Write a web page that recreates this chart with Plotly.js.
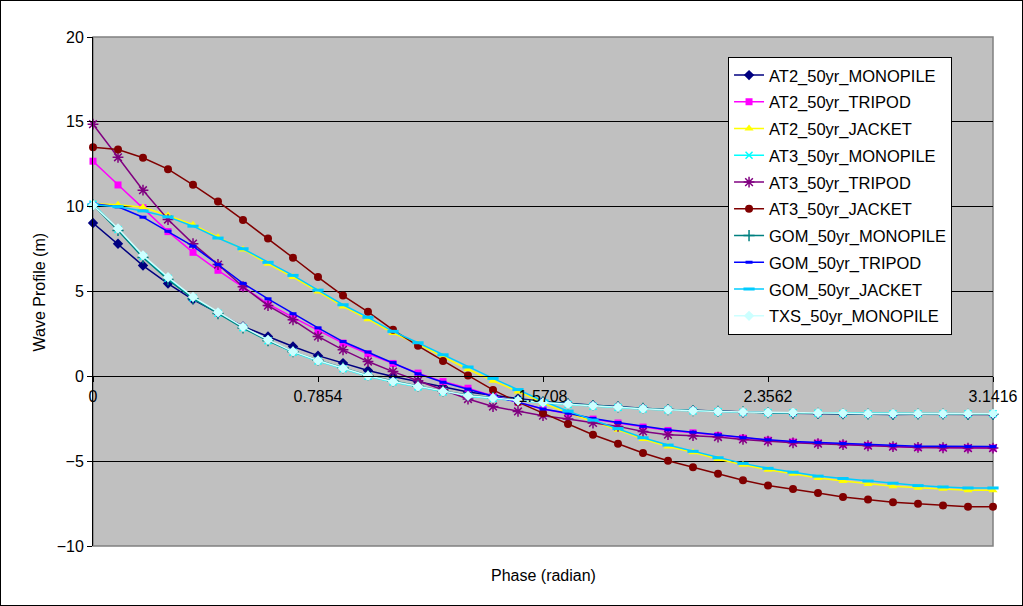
<!DOCTYPE html>
<html>
<head>
<meta charset="utf-8">
<script src="https://cdn.plot.ly/plotly-3.0.1.min.js"></script>
<style>
html,body{margin:0;padding:0;background:#fff;}
#chart{width:1021px;height:604px;border:1px solid #000;}
</style>
</head>
<body>
<div id="chart"></div>
<script>
const phase = [0, 0.0873, 0.1745, 0.2618, 0.3491, 0.4363, 0.5236, 0.6109, 0.6981, 0.7854, 0.8727, 0.9599, 1.0472, 1.1345, 1.2217, 1.3090, 1.3963, 1.4835, 1.5708, 1.6581, 1.7453, 1.8326, 1.9199, 2.0071, 2.0944, 2.1817, 2.2689, 2.3562, 2.4435, 2.5307, 2.6180, 2.7053, 2.7925, 2.8798, 2.9671, 3.0543, 3.1416];

const seriesNames = ["AT2_50yr_MONOPILE", "AT2_50yr_TRIPOD", "AT2_50yr_JACKET", "AT3_50yr_MONOPILE", "AT3_50yr_TRIPOD", "AT3_50yr_JACKET", "GOM_50yr_MONOPILE", "GOM_50yr_TRIPOD", "GOM_50yr_JACKET", "TXS_50yr_MONOPILE"];

const AT2_MONOPILE = [9.04, 7.81, 6.53, 5.47, 4.52, 3.74, 2.94, 2.35, 1.76, 1.22, 0.78, 0.34, -0.01, -0.32, -0.62, -0.92, -1.12, -1.30, -1.48, -1.60, -1.70, -1.78, -1.88, -1.95, -2.00, -2.07, -2.13, -2.14, -2.18, -2.20, -2.22, -2.22, -2.25, -2.23, -2.23, -2.25, -2.25];
const AT2_TRIPOD = [12.68, 11.28, 9.93, 8.53, 7.31, 6.25, 5.26, 4.27, 3.47, 2.70, 1.96, 1.33, 0.76, 0.19, -0.31, -0.70, -1.15, -1.54, -1.93, -2.21, -2.52, -2.75, -2.99, -3.19, -3.33, -3.48, -3.64, -3.76, -3.87, -3.93, -4.00, -4.08, -4.14, -4.19, -4.20, -4.22, -4.22];
const AT2_JACKET = [10.17, 10.12, 9.96, 9.48, 8.94, 8.20, 7.48, 6.63, 5.85, 5.00, 4.12, 3.37, 2.55, 1.90, 1.16, 0.42, -0.26, -0.89, -1.58, -2.16, -2.66, -3.15, -3.69, -4.13, -4.48, -4.87, -5.21, -5.50, -5.74, -5.99, -6.17, -6.34, -6.48, -6.57, -6.63, -6.71, -6.71];
const AT3_MONOPILE = [10.15, 8.65, 7.05, 5.78, 4.62, 3.72, 2.86, 2.10, 1.42, 0.90, 0.45, 0.00, -0.33, -0.62, -0.92, -1.17, -1.30, -1.44, -1.56, -1.66, -1.76, -1.83, -1.92, -1.98, -2.04, -2.08, -2.12, -2.14, -2.15, -2.17, -2.19, -2.20, -2.21, -2.21, -2.21, -2.21, -2.21];
const AT3_TRIPOD = [14.86, 12.91, 10.97, 9.24, 7.82, 6.59, 5.28, 4.17, 3.33, 2.35, 1.56, 0.87, 0.28, -0.26, -0.79, -1.34, -1.78, -2.07, -2.32, -2.52, -2.75, -2.95, -3.25, -3.44, -3.50, -3.58, -3.72, -3.82, -3.92, -3.97, -4.03, -4.09, -4.14, -4.19, -4.21, -4.23, -4.23];
const AT3_JACKET = [13.50, 13.37, 12.88, 12.21, 11.29, 10.30, 9.22, 8.13, 6.99, 5.85, 4.76, 3.80, 2.74, 1.80, 0.91, 0.05, -0.80, -1.52, -2.17, -2.81, -3.44, -3.97, -4.52, -4.97, -5.36, -5.74, -6.13, -6.44, -6.64, -6.88, -7.11, -7.26, -7.42, -7.51, -7.61, -7.68, -7.68];
const GOM_MONOPILE = [10.10, 8.60, 7.00, 5.70, 4.58, 3.70, 2.85, 2.10, 1.45, 0.95, 0.50, 0.05, -0.28, -0.58, -0.87, -1.12, -1.26, -1.40, -1.52, -1.62, -1.72, -1.80, -1.89, -1.96, -2.02, -2.06, -2.10, -2.14, -2.18, -2.18, -2.20, -2.22, -2.24, -2.22, -2.22, -2.24, -2.24];
const GOM_TRIPOD = [10.17, 9.99, 9.38, 8.55, 7.67, 6.59, 5.48, 4.57, 3.69, 2.86, 2.05, 1.43, 0.81, 0.15, -0.35, -0.75, -1.17, -1.52, -1.93, -2.18, -2.48, -2.72, -2.95, -3.15, -3.29, -3.45, -3.62, -3.74, -3.84, -3.90, -3.96, -4.03, -4.08, -4.12, -4.12, -4.14, -4.14];
const GOM_JACKET = [10.12, 10.00, 9.75, 9.40, 8.85, 8.15, 7.52, 6.72, 5.95, 5.08, 4.22, 3.48, 2.65, 1.98, 1.27, 0.55, -0.12, -0.78, -1.45, -2.05, -2.58, -3.08, -3.62, -4.05, -4.42, -4.80, -5.13, -5.42, -5.65, -5.88, -6.02, -6.17, -6.30, -6.44, -6.52, -6.58, -6.58];
const TXS_MONOPILE = [10.08, 8.71, 7.13, 5.84, 4.68, 3.77, 2.91, 2.15, 1.46, 0.93, 0.48, 0.03, -0.31, -0.60, -0.89, -1.15, -1.28, -1.42, -1.54, -1.64, -1.74, -1.81, -1.91, -1.97, -2.03, -2.07, -2.10, -2.13, -2.13, -2.16, -2.18, -2.20, -2.20, -2.20, -2.20, -2.20, -2.20];

const xTickVals = [0, 0.7854, 1.5708, 2.3562, 3.1416];
const xTickText = ["0", "0.7854", "1.5708", "2.3562", "3.1416"];

const values = [AT2_MONOPILE, AT2_TRIPOD, AT2_JACKET, AT3_MONOPILE, AT3_TRIPOD, AT3_JACKET, GOM_MONOPILE, GOM_TRIPOD, GOM_JACKET, TXS_MONOPILE];
const styles = [
  {color: "#000080", marker: {symbol: "diamond", size: 8, color: "#000080"}},
  {color: "#FF00FF", marker: {symbol: "square", size: 7, color: "#FF00FF"}},
  {color: "#FFFF00", marker: {symbol: "triangle-up", size: 8, color: "#FFFF00"}},
  {color: "#00FFFF", marker: {symbol: "x-thin-open", size: 7, color: "#00FFFF", line: {color: "#00FFFF", width: 1.5}}},
  {color: "#800080", marker: {symbol: "asterisk-open", size: 9, color: "#800080", line: {color: "#800080", width: 1.5}}},
  {color: "#800000", marker: {symbol: "circle", size: 8, color: "#800000"}},
  {color: "#008080", marker: {symbol: "cross-thin-open", size: 8, color: "#008080", line: {color: "#008080", width: 1.5}}},
  {color: "#0000FF", marker: {symbol: "line-ew-open", size: 5, color: "#0000FF", line: {color: "#0000FF", width: 3}}},
  {color: "#00CCFF", marker: {symbol: "line-ew-open", size: 8, color: "#00CCFF", line: {color: "#00CCFF", width: 3}}},
  {color: "#CCFFFF", marker: {symbol: "diamond", size: 8, color: "#CCFFFF"}}
];

const traces = seriesNames.map((n, i) => ({
  type: "scatter",
  mode: "lines+markers",
  name: n,
  x: phase,
  y: values[i],
  line: {color: styles[i].color, width: 1.5},
  marker: styles[i].marker,
  cliponaxis: false,
  legendgroup: "g" + i
}));

const font = {family: "Liberation Sans, Arial, sans-serif", size: 16, color: "#000"};
const legendFont = {family: "Liberation Sans, Arial, sans-serif", size: 16.5, color: "#000"};

const layout = {
  width: 1021,
  height: 604,
  margin: {l: 92, r: 29, t: 36, b: 59},
  paper_bgcolor: "#FFFFFF",
  plot_bgcolor: "#C0C0C0",
  font: font,
  showlegend: true,
  legend: {
    x: 0.7056, y: 0.961, xanchor: "left", yanchor: "top",
    bgcolor: "#FFFFFF", bordercolor: "#000000", borderwidth: 1,
    font: legendFont, tracegroupgap: 2.3, traceorder: "grouped"
  },
  xaxis: {
    range: [0, 3.1416],
    tickvals: xTickVals,
    ticktext: xTickText,
    showgrid: false,
    zeroline: false,
    showline: true,
    linecolor: "#000",
    linewidth: 1,
    ticks: "outside",
    ticklen: 5,
    tickcolor: "#000",
    anchor: "free",
    position: 1/3,
    tickfont: font
  },
  yaxis: {
    range: [-10, 20],
    dtick: 5,
    tick0: 0,
    showgrid: true,
    gridcolor: "#000",
    gridwidth: 1,
    zeroline: false,
    showline: true,
    linecolor: "#000",
    linewidth: 1,
    ticks: "outside",
    ticklen: 5,
    tickcolor: "#000",
    tickfont: font
  },
  shapes: [
    {type: "rect", xref: "paper", yref: "paper", x0: 0, x1: 1, y0: 0, y1: 1, line: {color: "#808080", width: 1.5}, layer: "below"}
  ],
  annotations: [
    {text: "Phase (radian)", xref: "paper", yref: "paper", x: 0.5, y: -0.058, xanchor: "center", yanchor: "middle", showarrow: false, font: font},
    {text: "Wave Profile (m)", xref: "paper", yref: "paper", x: -0.0589, y: 0.5, xanchor: "center", yanchor: "middle", textangle: -90, showarrow: false, font: font}
  ]
};

Plotly.newPlot("chart", traces, layout, {displayModeBar: false, staticPlot: true});
</script>
</body>
</html>
